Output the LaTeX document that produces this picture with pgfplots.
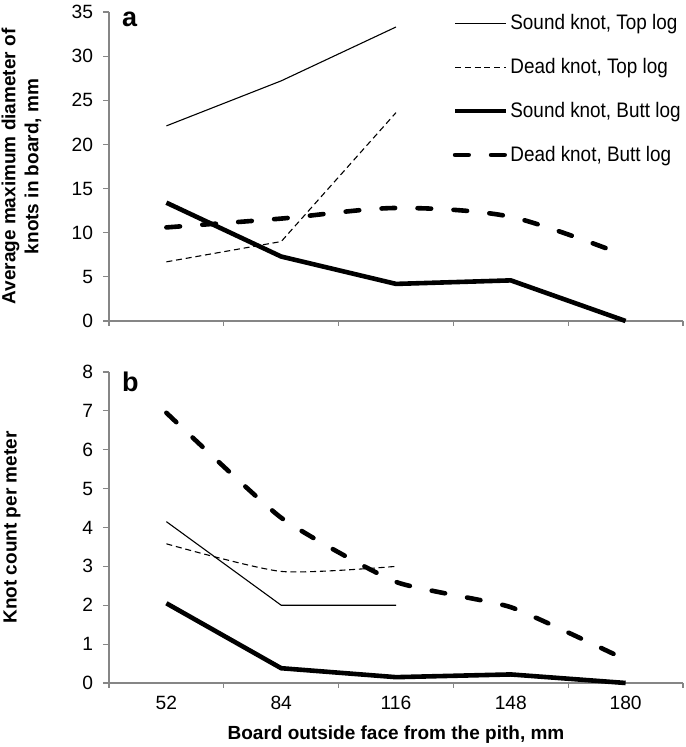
\documentclass[border=0pt]{standalone}
\usepackage{pgfplots}
\pgfplotsset{compat=1.18}
\usepackage{fontspec}
\setmainfont{Liberation Sans}
\newfontfamily\narrowfont[FakeStretch=0.9]{Liberation Sans}
\definecolor{axgray}{HTML}{868686}

\pgfplotsset{
  base/.style={
    scale only axis,
    width=287pt,
    xmin=-0.5, xmax=4.5,
    clip=false,
    axis x line*=bottom, axis y line*=left,
    axis line style={draw=axgray, line width=0.6pt, -},
    tick align=outside,
    major tick length=3pt, minor tick length=2.5pt,
    major x tick style={draw=none},
    minor x tick style={draw=axgray, line width=0.6pt},
    major y tick style={draw=axgray, line width=0.6pt},
    xtick={0,1,2,3,4},
    minor xtick={-0.5,0.5,1.5,2.5,3.5,4.5},
    /pgf/number format/assume math mode=true,
    tick label style={font=\fontsize{9.6}{11}\selectfont, text=black},
    yticklabel style={xshift=-1.5pt},
    ylabel style={font=\fontsize{9.5}{11.5}\selectfont\bfseries, align=center, rotate=0, anchor=center},
    xlabel style={font=\fontsize{9.5}{11.5}\selectfont\bfseries},
  },
  thinsolid/.style={black, line width=0.55pt},
  thindash/.style={black, line width=0.55pt, dash pattern=on 3pt off 1.9pt},
  thicksolid/.style={black, line width=2.3pt, line join=round},
  thickdash/.style={black, line width=2.3pt, line cap=round, dash pattern=on 6.8pt off 11.2pt},
}

\begin{document}
\begin{tikzpicture}
\path[use as bounding box] (-54.5pt,-213pt) rectangle (288pt,160.5pt);

% ---------------- panel a ----------------
\begin{axis}[base,
  height=154.5pt,
  at={(0pt,0pt)}, anchor=south west,
  ymin=0, ymax=35, ytick={0,5,...,35},
  xticklabels={},
  ylabel={Average maximum diameter of\\knots in board, mm},
  ylabel style={at={(axis description cs:-0.1524,0.5)}},
  legend style={at={(axis description cs:1,1)}, anchor=north east,
    draw=none, fill=none, inner sep=0pt, row sep=10.8pt,
    font=\narrowfont\fontsize{10.5}{12}\selectfont,
    nodes={inner sep=1pt}},
  legend cell align=left,
  legend image code/.code={\draw[#1] (0pt,0pt) -- (25.5pt,0pt);},
]
\addplot[thinsolid] coordinates {(0,22.1) (1,27.2) (2,33.3)};
\addlegendentry{Sound knot, Top log}
\addplot[thindash] coordinates {(0,6.7) (1,9.0) (2,23.6)};
\addlegendentry{Dead knot, Top log}
\addplot[thicksolid] coordinates {(0,13.4) (1,7.3) (2,4.2) (3,4.6) (4,0)};
\addlegendentry{Sound knot, Butt log}
\addplot[thickdash, smooth] coordinates {(0,10.6) (1,11.6) (2,12.8) (3,11.8) (4,7.4)};
\addlegendentry{Dead knot, Butt log}
\node[anchor=north west, inner sep=0pt, font=\fontsize{13.5}{13.5}\selectfont\bfseries]
  at (axis description cs:0.022,1.0) {a};
\end{axis}

% ---------------- panel b ----------------
\begin{axis}[base,
  height=155.5pt,
  at={(0pt,-25.5pt)}, anchor=north west,
  ymin=0, ymax=8, ytick={0,1,...,8},
  xticklabels={52,84,116,148,180},
  xlabel={Board outside face from the pith, mm},
  xlabel style={at={(axis description cs:0.5,0)}, anchor=center, yshift=-25.75pt},
  ylabel={Knot count per meter},
  ylabel style={at={(axis description cs:-0.169,0.5)}},
]
\addplot[thickdash, smooth, tension=0.3] coordinates {(0,6.95) (1,4.25) (2,2.6) (3,1.95) (4,0.6)};
\addplot[thinsolid] coordinates {(0,4.15) (1,2.0) (2,2.0)};
\addplot[thindash, smooth, tension=0.4] coordinates {(0,3.58) (1,2.87) (2,3.0)};
\addplot[thicksolid] coordinates {(0,2.05) (1,0.38) (2,0.15) (3,0.22) (4,0.0)};
\node[anchor=north west, inner sep=0pt, font=\fontsize{13.5}{13.5}\selectfont\bfseries]
  at (axis description cs:0.022,1.0) {b};
\end{axis}
\end{tikzpicture}
\end{document}
